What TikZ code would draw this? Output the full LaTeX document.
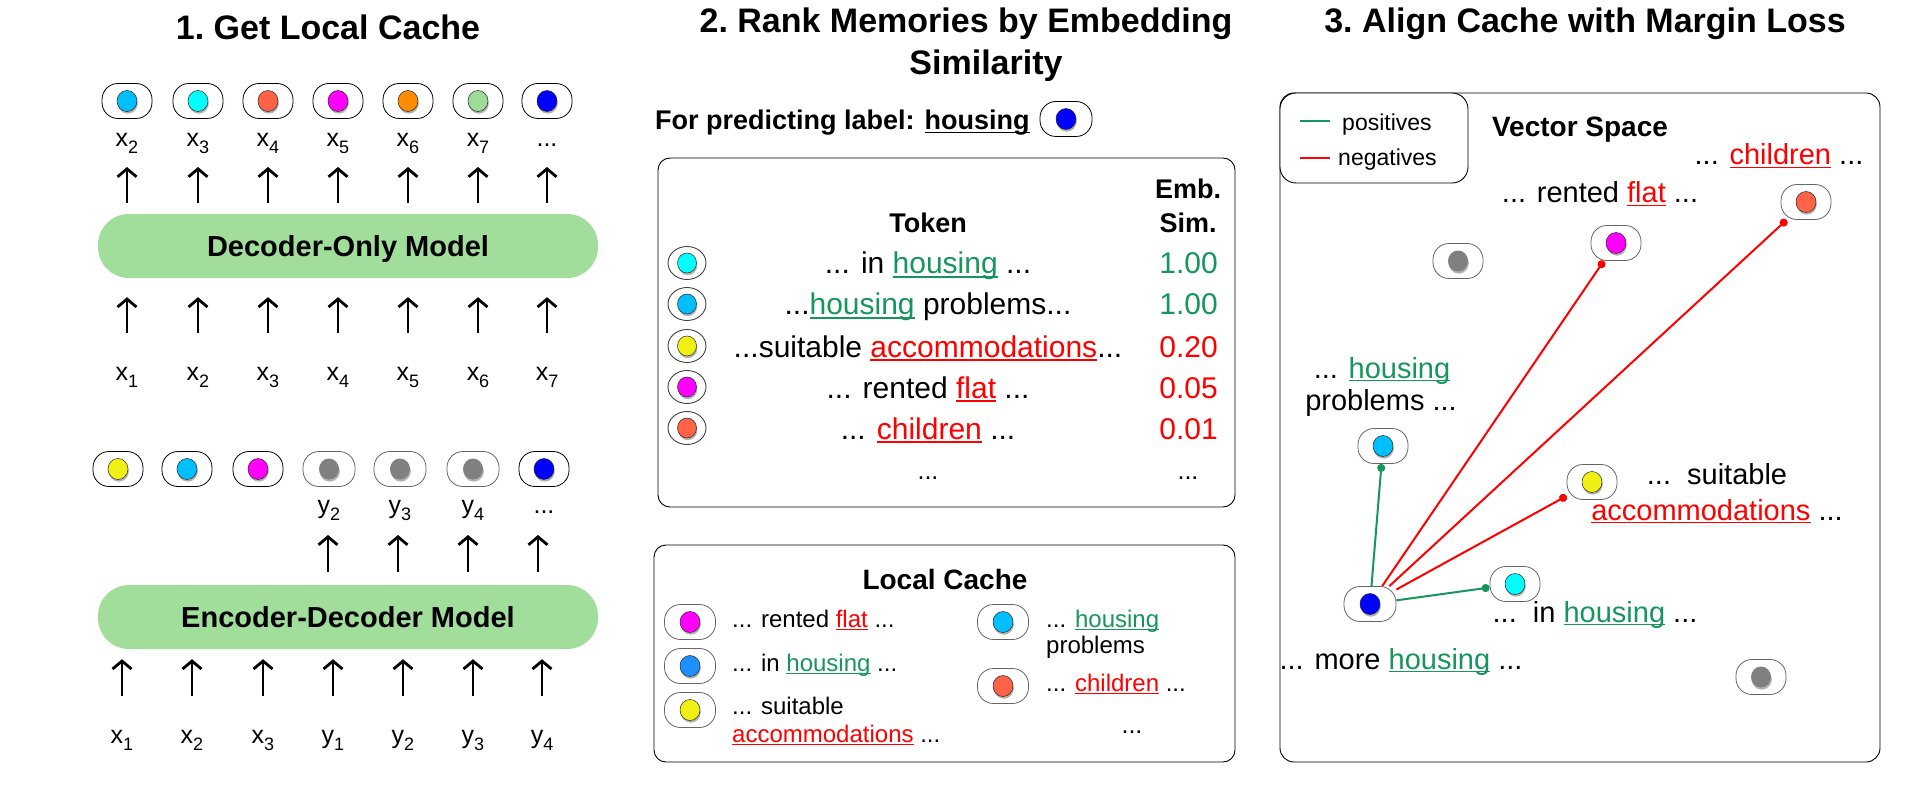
\documentclass[tikz,border=0pt]{standalone}
\usepackage{fontspec}
\setmainfont{Liberation Sans}
\usetikzlibrary{arrows.meta,shapes.geometric,shadows}
\definecolor{posg}{RGB}{22,150,92}
\definecolor{negr}{RGB}{255,0,0}
\definecolor{modelg}{RGB}{161,221,155}
\definecolor{cskyb}{RGB}{0,191,255}
\definecolor{ccyan}{RGB}{0,255,255}
\definecolor{ctomato}{RGB}{255,99,71}
\definecolor{cmag}{RGB}{255,0,255}
\definecolor{corange}{RGB}{255,140,0}
\definecolor{clgreen}{RGB}{157,220,152}
\definecolor{cblue}{RGB}{0,0,255}
\definecolor{cyellow}{RGB}{240,240,20}
\definecolor{cgray}{RGB}{128,128,128}
\definecolor{cdodger}{RGB}{30,144,255}
\newcommand{\subn}[1]{\raisebox{-7pt}{\fontsize{18}{18}\selectfont #1}}
\newcommand{\ulw}[1]{\setbox0=\hbox{#1}\rlap{\rule[-0.12em]{\wd0}{0.05em}}\box0}
\newcommand{\posw}[1]{\textcolor{posg}{\ulw{#1}}}
\newcommand{\negw}[1]{\textcolor{negr}{\ulw{#1}}}
\newcommand{\mypill}[5]{\node[pillbox,#4,minimum width=#5] (#1) at (#2) {};\node[dot,#3] (#1d) at (#1.center) {};}
\tikzset{
  title/.style={anchor=base, inner sep=0, font=\bfseries\fontsize{34}{41}\selectfont},
  lbl/.style={anchor=base, inner sep=0, font=\fontsize{25}{30}\selectfont},
  model/.style={fill=modelg, rounded corners=31pt, minimum width=500pt, minimum height=64pt, inner sep=0, text height=21pt, text depth=0pt, font=\bfseries\fontsize{29}{34}\selectfont},
  uparr/.style={line width=2.8pt, -{Straight Barb[length=8pt,width=19pt]}},
  pillbox/.style={draw, fill=white, rounded corners=16pt, minimum height=35pt, inner sep=0, line width=0.8pt},
  dark/.style={draw=black},
  light/.style={draw=black!60},
  ring/.style={ellipse, draw=black!75, fill=white, minimum width=38pt, minimum height=33pt, inner sep=0, line width=0.9pt},
  dot/.style={ellipse, draw=black!85, line width=0.5pt, minimum width=20pt, minimum height=21pt, inner sep=0, drop shadow={shadow xshift=0.8pt, shadow yshift=-2.2pt, opacity=0.3, fill=black}},
  gdot/.style={fill=cgray, draw=none},
  sdot/.style={minimum width=19pt, minimum height=20pt},
  panel/.style={draw=black, line width=0.9pt, rounded corners=12pt, inner sep=0},
  tabtxt/.style={anchor=base, inner sep=0, font=\fontsize{30}{36}\selectfont},
  hdr/.style={anchor=base, inner sep=0, font=\bfseries\fontsize{27}{33}\selectfont},
  lctxt/.style={anchor=base west, inner sep=0, font=\fontsize{24}{29}\selectfont},
  vstxt/.style={anchor=base, inner sep=0, font=\fontsize{29}{35}\selectfont},
  legtxt/.style={anchor=base west, inner sep=0, font=\fontsize{23}{28}\selectfont},
  posline/.style={draw=posg, line width=2pt, -{Circle[length=8pt]}},
  negline/.style={draw=negr, line width=2pt, -{Circle[length=8pt]}},
}
\begin{document}
\begin{tikzpicture}[x=1pt,y=-1pt]
\useasboundingbox (0,0) rectangle (1920,810);
% ================= Section 1 =================
\node[title] (t1) at (328,40) {1.\ Get Local Cache};
\foreach \n/\x/\c in {1/127/cskyb,2/198/ccyan,3/268/ctomato,4/338/cmag,5/408/corange,6/478/clgreen,7/547/cblue}{
  \mypill{tp\n}{\x,101}{fill=\c}{dark}{50pt}
}
\node[model] (dec) at (348,246) {Decoder-Only Model};
\foreach \n/\x/\t in {1/127/2,2/198/3,3/268/4,4/338/5,5/408/6,6/478/7}{
  \node[lbl] (to\n) at (\x,147) {x\subn{\t}};
}
\node[lbl] (to7) at (547,147) {...};
\foreach \n in {1,...,7}{
  \draw[uparr, shorten <=11pt, shorten >=20pt] (dec.north -| to\n.base) -- (to\n.base);
}
\foreach \n/\x/\t in {1/127/1,2/198/2,3/268/3,4/338/4,5/408/5,6/478/6,7/547/7}{
  \node[lbl] (ti\n) at (\x,380) {x\subn{\t}};
  \draw[uparr, shorten <=47pt, shorten >=19pt] (ti\n.base) -- (dec.south -| ti\n.base);
}
% encoder-decoder
\mypill{bp1}{118,469}{fill=cyellow}{dark}{50pt}
\mypill{bp2}{187,469}{fill=cskyb}{dark}{50pt}
\mypill{bp3}{258,469}{fill=cmag}{dark}{50pt}
\mypill{bp4}{329,469}{gdot}{light}{52pt}
\mypill{bp5}{400,469}{gdot}{light}{52pt}
\mypill{bp6}{473,469}{gdot}{light}{52pt}
\mypill{bp7}{544,469}{fill=cblue}{dark}{50pt}
\node[model] (enc) at (348,617) {Encoder-Decoder Model};
\foreach \n/\x/\t in {1/329/2,2/400/3,3/473/4}{
  \node[lbl] (yo\n) at (\x,513) {y\subn{\t}};
}
\node[lbl] (yo4) at (544,513) {...};
\foreach \n/\x in {1/328,2/398,3/468,4/538}{
  \coordinate (ya\n) at (\x,513);
  \draw[uparr, shorten <=13pt, shorten >=22pt] (enc.north -| ya\n) -- (ya\n);
}
\foreach \n/\x/\t in {1/122/x\subn{1},2/192/x\subn{2},3/263/x\subn{3},4/333/y\subn{1},5/403/y\subn{2},6/473/y\subn{3},7/542/y\subn{4}}{
  \node[lbl] (ei\n) at (\x,743) {\t};
  \draw[uparr, shorten <=47pt, shorten >=10pt] (ei\n.base) -- (enc.south -| ei\n.base);
}
% ================= Section 2 =================
\node[title] (t2a) at (966,33) {2.\ Rank Memories by Embedding};
\node[title] (t2b) at (986,75) {Similarity};
\node[anchor=base west, inner sep=0, font=\bfseries\fontsize{27}{33}\selectfont] (pred) at (655,130) {For predicting label: \ulw{housing}};
\mypill{qp}{1066,119}{fill=cblue}{dark}{52pt}
\node[panel, minimum width=577pt, minimum height=349pt] (tab) at (946.5,332.5) {};
\node[hdr] (tok) at (928,233) {Token};
\node[hdr] (emb) at (1188,199) {Emb.};
\node[hdr] (sim) at (1188,233) {Sim.};
\foreach \n/\y/\c in {1/263/ccyan,2/304/cskyb,3/346/cyellow,4/387/cmag,5/428/ctomato}{
  \node[ring] (r\n) at (687,\y) {};
  \node[dot,sdot,fill=\c] (r\n d) at (r\n.center) {};
}
\node[tabtxt] (rt1) at (928,274) {... in \posw{housing} ...};
\node[tabtxt] (rt2) at (928,315) {...\posw{housing} problems...};
\node[tabtxt] (rt3) at (928,357) {...suitable \negw{accommodations}...};
\node[tabtxt] (rt4) at (928,398) {... rented \negw{flat} ...};
\node[tabtxt] (rt5) at (928,439) {... \negw{children} ...};
\node[tabtxt, anchor=base east, text=posg] (rv1) at (1218,274) {1.00};
\node[tabtxt, anchor=base east, text=posg] (rv2) at (1218,315) {1.00};
\node[tabtxt, anchor=base east, text=negr] (rv3) at (1218,357) {0.20};
\node[tabtxt, anchor=base east, text=negr] (rv4) at (1218,398) {0.05};
\node[tabtxt, anchor=base east, text=negr] (rv5) at (1218,439) {0.01};
\node[lbl] (rd1) at (928,479) {...};
\node[lbl] (rd2) at (1188,479) {...};
% local cache
\node[panel, minimum width=581pt, minimum height=217pt] (lc) at (944.5,653.5) {};
\node[hdr, font=\bfseries\fontsize{28}{34}\selectfont] (lct) at (945,589) {Local Cache};
\mypill{lc1}{690,622}{fill=cmag}{light}{51pt}
\mypill{lc2}{690,666}{fill=cdodger}{light}{51pt}
\mypill{lc3}{690,710}{fill=cyellow}{light}{51pt}
\mypill{lc4}{1003,622}{fill=cskyb}{light}{51pt}
\mypill{lc5}{1003,686}{fill=ctomato}{light}{51pt}
\node[lctxt] (lt1) at (732,627) {... rented \negw{flat} ...};
\node[lctxt] (lt2) at (732,671) {... in \posw{housing} ...};
\node[lctxt] (lt3) at (732,714) {... suitable};
\node[lctxt] (lt3b) at (732,742) {\negw{accommodations} ...};
\node[lctxt] (lt4) at (1046,627) {... \posw{housing}};
\node[lctxt] (lt4b) at (1046,653) {problems};
\node[lctxt] (lt5) at (1046,691) {... \negw{children} ...};
\node[lbl] (ltd) at (1132,733) {...};
% ================= Section 3 =================
\node[title] (t3) at (1585,33) {3.\ Align Cache with Margin Loss};
\node[panel, rounded corners=14pt, minimum width=600pt, minimum height=669pt] (vs) at (1580,427.5) {};
\node[panel, rounded corners=16pt, fill=white, minimum width=188pt, minimum height=90pt] (leg) at (1374,138) {};
\coordinate (lg1a) at (1300,121); \coordinate (lg1b) at (1330,121);
\coordinate (lg2a) at (1300,158); \coordinate (lg2b) at (1330,158);
\draw[draw=posg, line width=2.5pt] (lg1a) -- (lg1b);
\draw[draw=negr, line width=2.5pt] (lg2a) -- (lg2b);
\node[legtxt] (lpos) at (1342,131) {positives};
\node[legtxt] (lneg) at (1338,166) {negatives};
\node[hdr, font=\bfseries\fontsize{28}{34}\selectfont] (vst) at (1580,137) {Vector Space};
\node[vstxt] (vc) at (1779,165) {... \negw{children} ...};
\node[vstxt] (vf) at (1600,203) {... rented \negw{flat} ...};
\node[vstxt] (vh1) at (1382,378) {... \posw{housing}};
\node[vstxt] (vh2) at (1381,410) {problems ...};
\node[vstxt] (va1) at (1717,484) {...\ \ suitable};
\node[vstxt] (va2) at (1717,520) {\negw{accommodations} ...};
\node[vstxt] (vi) at (1595,622) {...\ \ in \posw{housing} ...};
\node[vstxt] (vm) at (1401,669) {... more \posw{housing} ...};
\mypill{child}{1806,202}{fill=ctomato}{light}{50pt}
\mypill{flat}{1616,243}{fill=cmag}{light}{50pt}
\mypill{g1}{1458,261}{gdot}{light}{50pt}
\mypill{hp}{1383,446}{fill=cskyb}{light}{50pt}
\mypill{acc}{1592,482}{fill=cyellow}{light}{50pt}
\mypill{inh}{1515,584}{fill=ccyan}{light}{50pt}
\mypill{q}{1370,604}{fill=cblue}{light}{52pt}
\mypill{g2}{1761,677}{gdot}{light}{50pt}
\draw[posline] (q) -- (hp);
\draw[negline] (q) -- (flat);
\draw[negline] (q) -- (child);
\draw[negline] (q) -- (acc);
\draw[posline] (q) -- (inh);
\end{tikzpicture}
\end{document}
